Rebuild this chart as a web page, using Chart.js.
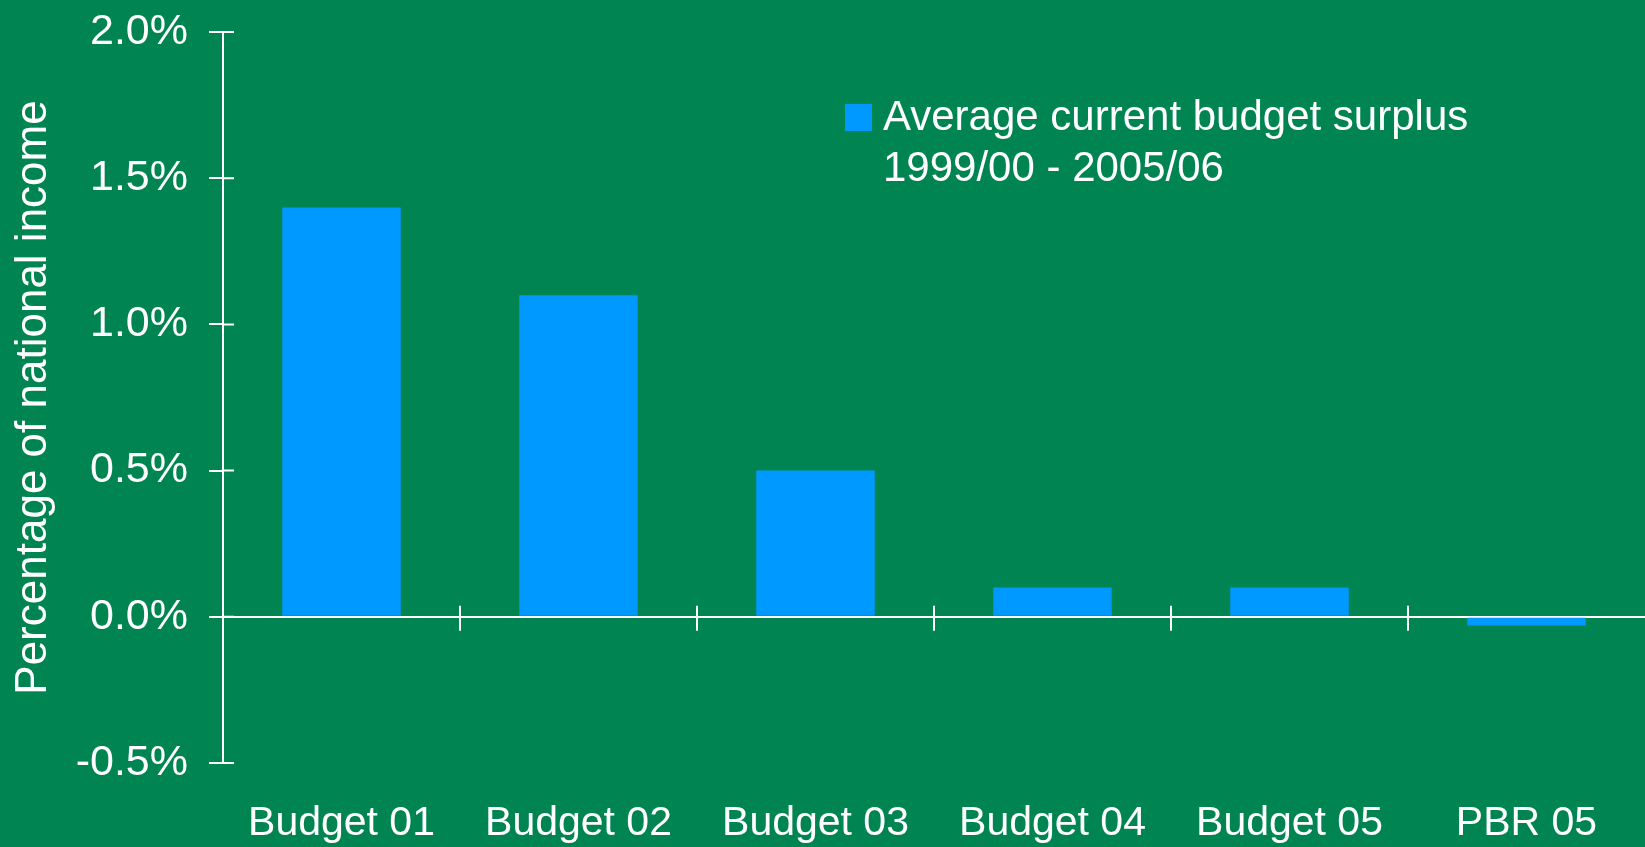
<!DOCTYPE html>
<html>
<head>
<meta charset="utf-8">
<title>Average current budget surplus</title>
<script src="https://cdn.jsdelivr.net/npm/chart.js@4.4.0/dist/chart.umd.min.js"></script>
<style>
  html, body { margin: 0; padding: 0; background: #008452; }
  #wrap { width: 1645px; height: 847px; position: relative; }
</style>
</head>
<body>
<div id="wrap"><canvas id="budget-chart"></canvas></div>
<script>
const categories = ['Budget 01', 'Budget 02', 'Budget 03', 'Budget 04', 'Budget 05', 'PBR 05'];
const surplusValues = [1.4, 1.1, 0.5, 0.1, 0.1, -0.03];
const legendLines = ['Average current budget surplus', '1999/00 - 2005/06'];
const yTicks = [-0.5, 0.0, 0.5, 1.0, 1.5, 2.0];

const FONT = "'Liberation Sans', Arial, sans-serif";
const WHITE = '#ffffff';
const BAR_BLUE = '#0099ff';

// draws the tick marks that cross the axes (Chart.js only draws them outward)
const crossTicks = {
    id: 'crossTicks',
    afterDraw(chart) {
        const ctx = chart.ctx;
        const x = chart.scales.x;
        const y = chart.scales.y;
        const zeroY = y.getPixelForValue(0);
        ctx.save();
        ctx.strokeStyle = WHITE;
        ctx.lineWidth = 2;
        ctx.beginPath();
        // inner half of the y ticks
        y.ticks.forEach((t, i) => {
            const py = y.getPixelForTick(i);
            ctx.moveTo(chart.chartArea.left, py);
            ctx.lineTo(chart.chartArea.left + 11, py);
        });
        // category separators on the zero line
        for (let i = 1; i < categories.length; i++) {
            const px = (x.getPixelForValue(i - 1) + x.getPixelForValue(i)) / 2;
            ctx.moveTo(px, zeroY - 11);
            ctx.lineTo(px, zeroY + 14);
        }
        ctx.stroke();
        ctx.restore();
    }
};

// legend sits inside the plot area, top right
const insideLegend = {
    id: 'insideLegend',
    afterDraw(chart) {
        const ctx = chart.ctx;
        const ds = chart.data.datasets[0];
        const lines = ds.label.split('\n');
        ctx.save();
        ctx.fillStyle = ds.backgroundColor;
        ctx.fillRect(845, 104, 27, 27);
        ctx.fillStyle = WHITE;
        ctx.font = '42px ' + FONT;
        ctx.textBaseline = 'alphabetic';
        lines.forEach((line, i) => {
            ctx.fillText(line, 883, 130 + i * 50.5);
        });
        ctx.restore();
    }
};

const ctx = document.getElementById('budget-chart').getContext('2d');

new Chart(ctx, {
    type: 'bar',
    data: {
        labels: categories,
        datasets: [{
            label: legendLines.join('\n'),
            data: surplusValues,
            backgroundColor: BAR_BLUE,
            borderWidth: 0,
            barPercentage: 1.0,
            categoryPercentage: 0.5
        }]
    },
    options: {
        responsive: true,
        maintainAspectRatio: false,
        animation: false,
        layout: {
            padding: { top: 32, right: 0, bottom: 0, left: 0 }
        },
        scales: {
            x: {
                grid: { display: false, drawTicks: false },
                border: { display: false },
                ticks: {
                    color: WHITE,
                    font: { family: FONT, size: 41 },
                    padding: 36,
                    maxRotation: 0,
                    autoSkip: false
                },
                afterFit(scale) { scale.height = 84; }
            },
            y: {
                min: -0.5,
                max: 2.0,
                afterBuildTicks(scale) {
                    scale.ticks = yTicks.map(v => ({ value: v }));
                },
                grid: {
                    // only the zero line runs across the plot
                    color: c => (c.tick && c.tick.value === 0 ? WHITE : 'rgba(0,0,0,0)'),
                    lineWidth: 2,
                    tickColor: WHITE,
                    tickLength: 14,
                    drawTicks: true
                },
                border: { display: true, color: WHITE, width: 2 },
                ticks: {
                    color: WHITE,
                    font: { family: FONT, size: 43 },
                    padding: 21,
                    callback: v => v.toFixed(1) + '%'
                },
                title: {
                    display: true,
                    text: 'Percentage of national income',
                    color: WHITE,
                    font: { family: FONT, size: 44 },
                    padding: { top: 7, bottom: 4 }
                },
                afterFit(scale) {
                    scale.width = 223;
                    // let layout.padding decide where the plot starts
                    scale.paddingTop = 0;
                    scale.paddingBottom = 0;
                }
            }
        },
        plugins: {
            legend: { display: false },
            tooltip: { enabled: false }
        }
    },
    plugins: [crossTicks, insideLegend]
});
</script>
</body>
</html>
